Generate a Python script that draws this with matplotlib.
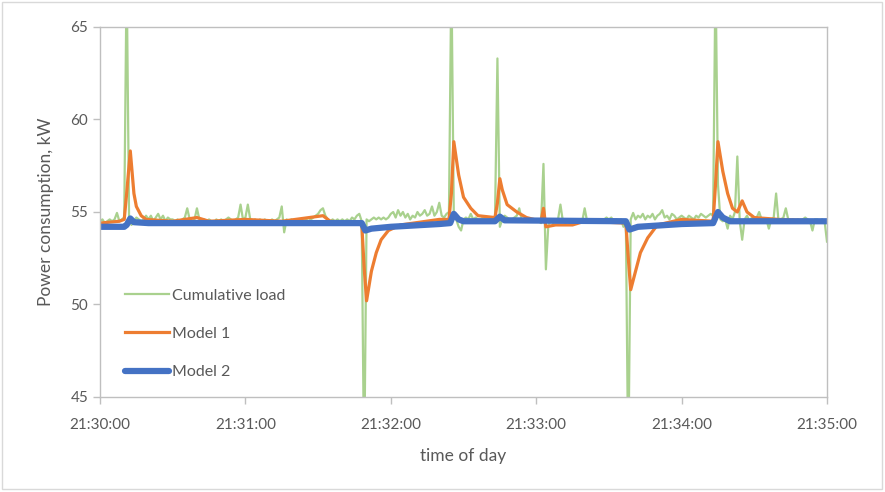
import matplotlib
matplotlib.use("Agg")
import matplotlib.pyplot as plt
from matplotlib.patches import Rectangle

# seconds after 21:30:00
GREEN_T = list(range(0, 301))
GREEN = [
    54.5, 54.6, 54.4, 54.5, 54.6, 54.5, 54.6, 54.95, 54.5, 54.6,
    54.7, 68.0, 54.6, 54.3, 54.5, 54.7, 54.6, 54.5, 54.6, 54.8,
    54.6, 54.8, 54.5, 54.7, 54.9, 54.6, 54.8, 54.5, 54.7, 54.6,
    54.6, 54.5, 54.6, 54.5, 54.6, 54.7, 55.2, 54.6, 54.5, 54.6,
    55.2, 54.6, 54.5, 54.6, 54.5, 54.6, 54.5, 54.4, 54.6, 54.5,
    54.6, 54.5, 54.6, 54.7, 54.6, 54.5, 54.6, 54.7, 55.4, 54.6,
    54.7, 55.4, 54.6, 54.5, 54.6, 54.5, 54.6, 54.5, 54.6, 54.5,
    54.5, 54.6, 54.5, 54.6, 54.7, 55.3, 53.9, 54.6, 54.5, 54.6,
    54.5, 54.6, 54.5, 54.6, 54.5, 54.6, 54.5, 54.6, 54.7, 54.8,
    54.9, 55.1, 55.2, 54.8, 54.6, 54.5, 54.6, 54.5, 54.6, 54.5,
    54.6, 54.5, 54.6, 54.5, 54.7, 54.6, 54.8, 54.9, 54.5, 41.0,
    54.6, 54.5, 54.6, 54.7, 54.6, 54.7, 54.6, 54.7, 54.6, 54.7,
    54.9, 55.0, 54.7, 55.1, 54.8, 55.0, 54.7, 54.9, 54.6, 54.8,
    54.7, 55.0, 54.8, 54.9, 55.1, 54.8, 54.9, 55.3, 54.8, 55.0,
    55.5, 54.8, 54.7, 54.9, 55.0, 68.0, 54.8, 54.6, 54.2, 54.0,
    54.6, 54.7, 54.6, 54.9, 54.6, 54.7, 54.6, 54.6, 54.7, 54.6,
    54.6, 54.7, 54.6, 54.7, 63.3, 54.2, 54.6, 54.8, 54.7, 54.6,
    54.6, 54.7, 54.8, 55.2, 54.6, 54.5, 54.6, 54.5, 54.6, 54.5,
    54.6, 54.5, 54.4, 57.6, 51.9, 54.3, 54.5, 54.4, 54.5, 54.6,
    55.4, 54.5, 54.4, 54.5, 54.4, 54.5, 54.4, 54.5, 54.6, 54.5,
    55.2, 54.5, 54.6, 54.5, 54.6, 54.5, 54.6, 54.5, 54.6, 54.7,
    54.6, 54.7, 54.5, 54.6, 54.5, 54.6, 54.2, 54.4, 41.0, 54.6,
    54.95, 54.6, 54.8, 54.7, 54.9, 54.6, 54.8, 54.7, 54.9, 54.6,
    54.8, 54.9, 55.1, 54.7, 54.8, 54.6, 54.9, 54.8, 54.6, 54.7,
    54.8, 54.7, 54.6, 54.8, 54.7, 54.6, 54.8, 54.7, 54.9, 54.8,
    54.7, 54.8, 54.9, 54.8, 68.0, 56.5, 54.6, 54.5, 54.6, 54.1,
    54.8, 54.6, 55.0, 58.0, 54.5, 53.5, 54.6, 54.8, 54.5, 54.7,
    54.6, 54.7, 55.0, 54.6, 54.5, 54.6, 54.1, 54.6, 54.7, 56.0,
    54.5, 54.6, 54.7, 55.2, 54.6, 54.5, 54.6, 54.5, 54.6, 54.5,
    54.6, 54.7, 54.6, 54.5, 54.0, 54.6, 54.6, 54.5, 54.6, 54.5,
    53.4,
]

ORANGE_T = [0, 8, 10, 11, 12.5, 14, 15, 17, 19, 30, 40, 45, 60, 75, 92, 95,
            108, 109, 110, 112, 114, 116, 119, 124, 140, 144, 145, 146, 148,
            150, 153, 156, 163, 164, 165, 166, 168, 172, 176, 182, 183, 184,
            188, 195, 200, 217, 218, 219, 221, 223, 226, 230, 240, 253, 254,
            255, 257, 259, 261, 263, 265, 267, 270, 280, 300]
ORANGE = [54.4, 54.5, 54.6, 56.0, 58.3, 56.0, 55.3, 54.8, 54.6, 54.5, 54.7,
          54.5, 54.6, 54.5, 54.8, 54.5, 54.4, 52.0, 50.2, 51.8, 52.8, 53.5,
          54.0, 54.3, 54.6, 54.6, 56.0, 58.8, 57.0, 55.8, 55.2, 54.8, 54.7,
          55.5, 56.8, 56.2, 55.4, 55.0, 54.7, 54.5, 55.2, 54.2, 54.3, 54.3,
          54.5, 54.4, 52.5, 50.8, 51.8, 52.8, 53.6, 54.3, 54.6, 54.5, 56.5,
          58.8, 57.2, 56.0, 55.2, 55.0, 55.6, 55.0, 54.7, 54.6, 54.5]

BLUE_T = [0, 10, 11, 12.5, 14, 20, 100, 108, 109.5, 112, 120, 140, 144.5,
          146, 148, 150, 163, 165, 167, 217, 218.5, 222, 240, 253, 255, 257,
          260, 300]
BLUE = [54.2, 54.2, 54.3, 54.65, 54.45, 54.4, 54.4, 54.4, 54.0, 54.1, 54.2,
        54.35, 54.4, 54.9, 54.6, 54.5, 54.5, 54.75, 54.55, 54.5, 54.05, 54.2,
        54.35, 54.4, 55.0, 54.7, 54.5, 54.5]

TICK_SEC = [0, 60, 120, 180, 240, 300]
TICK_LABELS = ["21:30:00", "21:31:00", "21:32:00", "21:33:00", "21:34:00", "21:35:00"]

plt.rcParams["font.family"] = ["Lato", "DejaVu Sans"]
GRAY = "#bfbfbf"
TEXT = "#595959"

fig = plt.figure(figsize=(8.85, 4.92), dpi=100)
ax = fig.add_axes([100 / 885, 95 / 492, 727 / 885, 370 / 492])

ax.plot(GREEN_T, GREEN, color="#a9d18e", lw=1.6, label="Cumulative load")
ax.plot(ORANGE_T, ORANGE, color="#ed7d31", lw=2.3, label="Model 1")
ax.plot(BLUE_T, BLUE, color="#4472c4", lw=4.5, solid_capstyle="round",
        label="Model 2")

ax.set_xlim(0, 300)
ax.set_ylim(45, 65)
ax.set_xticks(TICK_SEC, TICK_LABELS)
ax.set_yticks([45, 50, 55, 60, 65])
ax.tick_params(colors=GRAY, labelcolor=TEXT, labelsize=11, length=5, width=1)
ax.tick_params(axis="x", pad=10)
for s in ax.spines.values():
    s.set_color(GRAY)
    s.set_linewidth(1)

ax.set_xlabel("time of day", fontsize=12.5, color=TEXT, labelpad=12)
ax.set_ylabel("Power consumption, kW", fontsize=12.5, color=TEXT, labelpad=12)

leg = ax.legend(loc="upper left", bbox_to_anchor=(0.025, 0.31), frameon=False,
                fontsize=11.5, labelspacing=1.5, handlelength=2.8,
                handletextpad=0.15, borderaxespad=0)
for t in leg.get_texts():
    t.set_color(TEXT)

fig.patches.append(Rectangle((2 / 885, 3 / 492), 880 / 885, 487 / 492,
                             transform=fig.transFigure, fill=False,
                             edgecolor="#d9d9d9", lw=1))

fig.savefig("out.png", dpi=100)
